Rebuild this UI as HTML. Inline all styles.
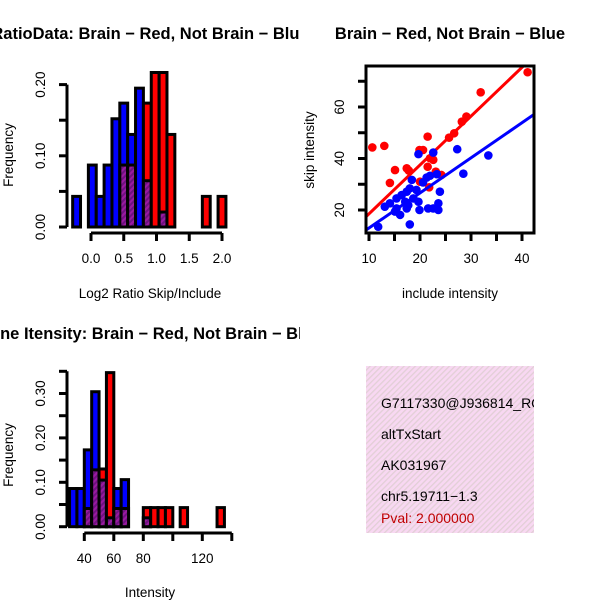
<!DOCTYPE html>
<html><head><meta charset="utf-8"><style>
html,body{margin:0;padding:0;background:#fff}
svg{display:block;font-family:"Liberation Sans",sans-serif}
</style></head><body>
<svg id="c" width="600" height="600" xmlns="http://www.w3.org/2000/svg">
<defs>
<pattern id="purp" width="4" height="4" patternUnits="userSpaceOnUse" patternTransform="rotate(45)">
<rect width="4" height="4" fill="#9a1aa0"/><rect width="2" height="4" fill="#6e1280"/></pattern>
<pattern id="pink" width="4" height="4" patternUnits="userSpaceOnUse" patternTransform="rotate(45)">
<rect width="4" height="4" fill="#f8d8f2"/><rect width="1.3" height="4" fill="#e2cfd6"/></pattern>
<clipPath id="clipL"><rect x="0" y="0" width="300" height="600"/></clipPath>
<clipPath id="clipS"><rect x="366" y="66" width="168" height="167"/></clipPath>
<clipPath id="clipB"><rect x="366" y="366" width="168" height="167"/></clipPath>
</defs>
<g id="root"></g>
</svg>
<script>
// ---- Top-left histogram data (log2 ratio) ----
const ratioBinLefts = [-0.28,-0.16,-0.04,0.08,0.20,0.32,0.44,0.56,0.68,0.80,0.92,1.04,1.16,1.70,1.94];
const ratioBlue = [0.043,0,0.087,0.043,0.087,0.152,0.174,0.13,0.195,0.065,0,0.021,0,0,0];
const ratioRed = [0,0,0,0,0,0,0.087,0.087,0,0.174,0.217,0.217,0.13,0.043,0.043];
const ratioBinWidth = 0.12;
const ratioXTicks = [0,0.5,1.0,1.5,2.0];
const ratioXLabels = ["0.0","0.5","1.0","1.5","2.0"];
const ratioYTicks = [0,0.05,0.10,0.15,0.20];
const ratioYLabels = ["0.00","","0.10","","0.20"];
// ---- Scatter data ----
const redInclude = [10.65,13.0,15.1,14.1,17.4,17.8,19.9,20.6,20.0,21.5,21.96,21.5,22.6,23.1,24.2,21.8,25.7,26.7,28.2,29.1,31.9,41.1];
const redSkip = [44.3,44.9,35.5,30.5,36.2,35.3,43.3,43.3,31.0,48.5,40.1,36.8,39.5,34.9,33.6,28.8,48.1,49.8,54.3,56.3,65.7,73.5];
const blueInclude = [11.8,13.1,14.1,15.1,16.1,15.4,16.4,17.1,17.4,18.0,17.7,18.4,19.3,19.7,19.9,18.0,19.7,20.6,21.3,21.96,22.6,23.3,21.6,22.6,23.6,23.6,23.9,27.3,28.5,33.4,17.4,18.7,15.4];
const blueSkip = [13.5,21.3,22.6,19.4,18.1,24.5,25.8,23.2,27.1,28.4,21.9,31.7,27.8,23.2,20.0,14.4,41.7,30.7,32.6,33.3,42.3,33.9,20.6,20.6,22.6,20.0,27.1,43.6,34.1,41.2,20.6,24.5,20.6];
const redFit = [-0.44, 1.896];   // intercept, slope
const blueFit = [-0.63, 1.363];
const scXTicks = [10,15,20,25,30,35,40];
const scXLabels = ["10","","20","","30","","40"];
const scYTicks = [20,30,40,50,60,70];
const scYLabels = ["20","","40","","60",""];
// ---- Bottom-left histogram (intensity) ----
const intBinLefts = [30,35,40,45,50,55,60,65,80,85,90,95,105,130];
const intBlue = [0.086,0.086,0.173,0.304,0.105,0.02,0.086,0.106,0.02,0,0,0,0,0];
const intRed = [0,0,0.041,0.128,0.13,0.347,0.041,0.041,0.043,0.043,0.043,0.043,0.043,0.043];
const intBinWidth = 5;
const intXTicks = [40,60,80,100,120,140];
const intXLabels = ["40","60","80","","120",""];
const intYTicks = [0,0.05,0.10,0.15,0.20,0.25,0.30,0.35];
const intYLabels = ["0.00","","0.10","","0.20","","0.30",""];
// ---- Info panel ----
const infoLines = ["G7117330@J936814_RC","altTxStart","AK031967","chr5.19711\u22121.3"];
const pvalText = "Pval: 2.000000";

const FS=13.5, TS=16.5;
const NS="http://www.w3.org/2000/svg";
const root=document.getElementById('root');
function mk(tag,attrs,parent){const e=document.createElementNS(NS,tag);for(const k in attrs)e.setAttribute(k,attrs[k]);(parent||root).appendChild(e);return e;}
function txt(s,x,y,size,parent,opt){opt=opt||{};const t=mk('text',{x:x,y:y,'font-size':size,'text-anchor':opt.anchor||'middle',fill:opt.fill||'#000','font-weight':opt.bold?'bold':'normal'},parent);if(opt.rot)t.setAttribute('transform','rotate(-90 '+x+' '+y+')');t.textContent=s;return t;}

function histogram(g,lefts,blue,red,w,sx,sy){
  for(let i=0;i<lefts.length;i++){
    const x0=sx(lefts[i]),x1=sx(lefts[i]+w);
    const b=blue[i],r=red[i];
    const hi=Math.max(b,r),lo=Math.min(b,r);
    if(hi>0){
      const bar=mk('rect',{x:x0,y:sy(hi),width:x1-x0,height:sy(0)-sy(hi),fill:b>=r?'#0000ff':'#ff0000',stroke:'#000','stroke-width':3},g);
      
      
    }
    if(lo>0){
      const ov=mk('rect',{x:x0,y:sy(lo),width:x1-x0,height:sy(0)-sy(lo),fill:'url(#purp)',stroke:'#000','stroke-width':3},g);
      
      
    }
  }
}
function yAxis(g,x,ticks,labels,sy,lx){
  mk('line',{x1:x,x2:x,y1:sy(ticks[0]),y2:sy(ticks[ticks.length-1]),stroke:'#000','stroke-width':3},g);
  ticks.forEach((t,i)=>{mk('line',{x1:x,x2:x-8,y1:sy(t),y2:sy(t),stroke:'#000','stroke-width':3},g);
    if(labels[i]){const l=txt(labels[i],lx,sy(t),FS,g,{rot:true});}});
}
function xAxis(g,y,ticks,labels,sx,ly){
  mk('line',{x1:sx(ticks[0]),x2:sx(ticks[ticks.length-1]),y1:y,y2:y,stroke:'#000','stroke-width':3},g);
  ticks.forEach((t,i)=>{mk('line',{x1:sx(t),x2:sx(t),y1:y,y2:y+8,stroke:'#000','stroke-width':3},g);
    if(labels[i]){const l=txt(labels[i],sx(t),ly,FS,g);}});
}

// Panel 1
const p1=mk('g',{'clip-path':'url(#clipL)'});


const sx1=v=>91+v*65.5, sy1=v=>227-v*712;
histogram(p1,ratioBinLefts,ratioBlue,ratioRed,ratioBinWidth,sx1,sy1);
yAxis(p1,67,ratioYTicks,ratioYLabels,sy1,45);
xAxis(p1,233,ratioXTicks,ratioXLabels,sx1,263);
txt("RatioData: Brain \u2212 Red, Not Brain \u2212 Blue",150,39,TS,p1,{bold:true});
txt("Log2 Ratio Skip/Include",150,298,FS,p1);
txt("Frequency",13,155,FS,p1,{rot:true});

// Panel 2 scatter
const p2=mk('g',{});


const sx2=v=>369+(v-10)*5.1, sy2=v=>210-(v-20)*2.575;
const pts=mk('g',{'clip-path':'url(#clipS)'},p2);
[[redInclude,redSkip,redFit,'#ff0000','red'],[blueInclude,blueSkip,blueFit,'#0000ff','blue']].forEach(([xs,ys,f,col,nm])=>{
  xs.forEach((x,i)=>{const c=mk('circle',{cx:sx2(x),cy:sy2(ys[i]),r:4.3,fill:col},pts);
    
    });
  const a=f[0],b=f[1];
  const ln=mk('line',{x1:sx2(8),y1:sy2(a+b*8),x2:sx2(45),y2:sy2(a+b*45),stroke:col,'stroke-width':3},pts);
  
  
});
mk('rect',{x:366,y:66,width:168,height:167,fill:'none',stroke:'#000','stroke-width':3},p2);
yAxis(p2,366,scYTicks,scYLabels,sy2,344);
mk('line',{x1:366,x2:366,y1:66,y2:233,stroke:'#000','stroke-width':3},p2);
scXTicks.forEach((t,i)=>{mk('line',{x1:sx2(t),x2:sx2(t),y1:233,y2:241,stroke:'#000','stroke-width':3},p2);
  if(scXLabels[i]){const l=txt(scXLabels[i],sx2(t),263,FS,p2);}});
txt("Brain \u2212 Red, Not Brain \u2212 Blue",450,39,TS,p2,{bold:true});
txt("include intensity",450,298,FS,p2);
txt("skip intensity",314,150,FS,p2,{rot:true});

// Panel 3
const p3=mk('g',{'clip-path':'url(#clipL)'});


const sx3=v=>84.3+(v-40)*1.475, sy3=v=>526.7-v*444;
histogram(p3,intBinLefts,intBlue,intRed,intBinWidth,sx3,sy3);
yAxis(p3,67,intYTicks,intYLabels,sy3,45);
xAxis(p3,533,intXTicks,intXLabels,sx3,563);
txt("Gene Itensity: Brain \u2212 Red, Not Brain \u2212 Blue",150,339,TS,p3,{bold:true});
txt("Intensity",150,597,FS,p3);
txt("Frequency",13,455,FS,p3,{rot:true});

// Panel 4 info
const p4=mk('g',{'clip-path':'url(#clipB)'});


mk('rect',{x:366,y:366,width:168,height:167,fill:'url(#pink)'},p4);
const ys4=[408,439,470,501];
infoLines.forEach((s,i)=>{const t=txt(s,381,ys4[i],14,p4,{anchor:'start'});});
const pv=txt(pvalText,381,523,14,p4,{anchor:'start',fill:'#c00000'});


</script>
</body></html>
